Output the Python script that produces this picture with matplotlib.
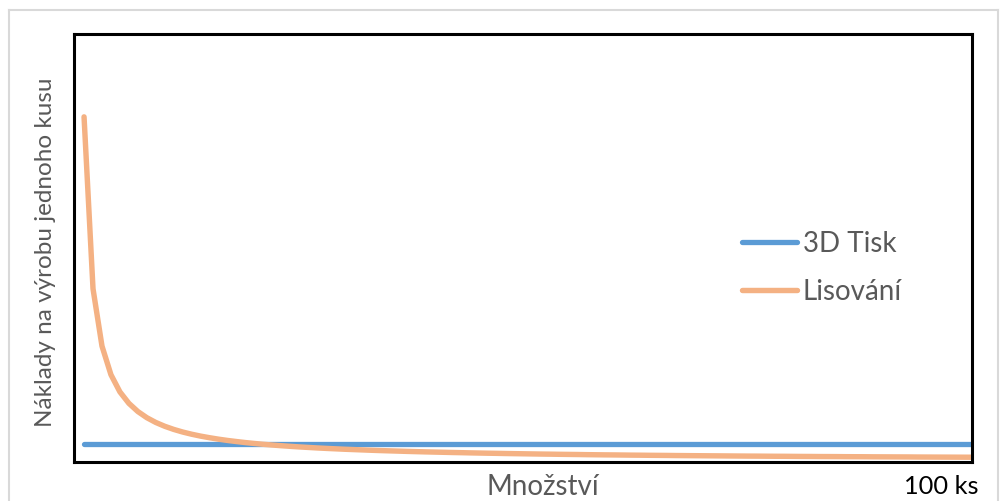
import matplotlib
matplotlib.use("Agg")
import matplotlib.pyplot as plt
from matplotlib.lines import Line2D

plt.rcParams['font.family'] = ['Lato', 'DejaVu Sans']

quantity = list(range(1, 101))
tisk_3d = [5.15] * 100
lisovani = [100.3, 50.3, 33.63, 25.3, 20.3, 16.97, 14.59, 12.8, 11.41, 10.3,
            9.39, 8.63, 7.99, 7.44, 6.97, 6.55, 6.18, 5.86, 5.56, 5.3,
            5.06, 4.85, 4.65, 4.47, 4.3, 4.15, 4.0, 3.87, 3.75, 3.63,
            3.53, 3.43, 3.33, 3.24, 3.16, 3.08, 3.0, 2.93, 2.86, 2.8,
            2.74, 2.68, 2.63, 2.57, 2.52, 2.47, 2.43, 2.38, 2.34, 2.3,
            2.26, 2.22, 2.19, 2.15, 2.12, 2.09, 2.05, 2.02, 1.99, 1.97,
            1.94, 1.91, 1.89, 1.86, 1.84, 1.82, 1.79, 1.77, 1.75, 1.73,
            1.71, 1.69, 1.67, 1.65, 1.63, 1.62, 1.6, 1.58, 1.57, 1.55,
            1.53, 1.52, 1.5, 1.49, 1.48, 1.46, 1.45, 1.44, 1.42, 1.41,
            1.4, 1.39, 1.38, 1.36, 1.35, 1.34, 1.33, 1.32, 1.31, 1.3]
series_names = ["3D Tisk", "Lisování"]
x_label = "Množství"
x_end_label = "100 ks"
y_label = "Náklady na výrobu jednoho kusu"

fig = plt.figure(figsize=(10.02, 5.01), dpi=100)
# outer light border
fig.add_artist(Line2D([9/1002, 9/1002], [0, 1 - 10/501], color='#D9D9D9', lw=1.5))
fig.add_artist(Line2D([9/1002, 998/1002], [1 - 10/501, 1 - 10/501], color='#D9D9D9', lw=1.5))
fig.add_artist(Line2D([998/1002, 998/1002], [0, 1 - 10/501], color='#D9D9D9', lw=1.5))

ax = fig.add_axes([74/1002, 39.3/501, 898/1002, 427.7/501])
ax.plot(quantity, tisk_3d, color='#5B9BD5', lw=3.8, solid_capstyle='round', label=series_names[0])
ax.plot(quantity, lisovani, color='#F4B183', lw=3.9, solid_capstyle='round', label=series_names[1])
ax.set_xlim(-0.12, 100)
ax.set_ylim(0, 124.4)
ax.set_xticks([])
ax.set_yticks([])
for s in ax.spines.values():
    s.set_color('black')
    s.set_linewidth(2.2)

leg = ax.legend(loc='center left', bbox_to_anchor=(0.744, 0.453), frameon=False,
                fontsize=20, handlelength=1.98, handletextpad=0.2, labelspacing=0.78,
                borderpad=0, borderaxespad=0)
for t in leg.get_texts():
    t.set_color('#595959')

fig.text(543/1002, 1 - 487/501, x_label, ha='center', va='center', fontsize=20, color='#595959')
fig.text(941/1002, 1 - 487/501, x_end_label, ha='center', va='center', fontsize=18.3, color='black')
fig.text(46/1002, 1 - 252/501, y_label, ha='center', va='center', rotation=90, fontsize=17.5, color='#595959')

fig.savefig("out.png", dpi=100)
